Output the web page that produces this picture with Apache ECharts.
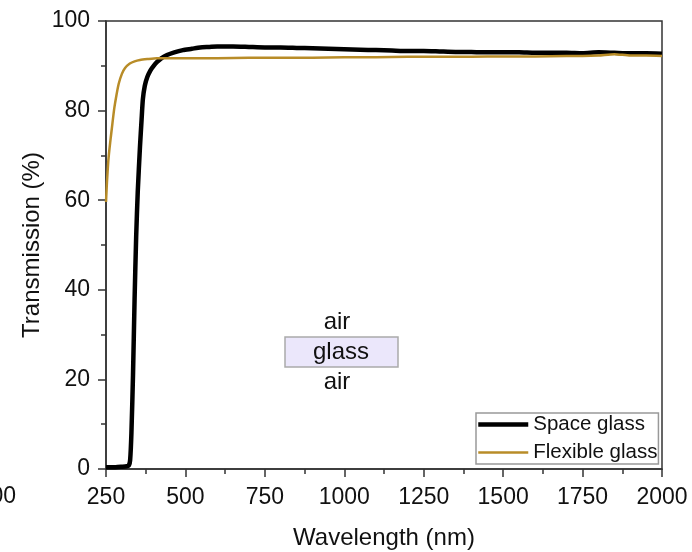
<!DOCTYPE html>
<html>
<head>
<meta charset="utf-8">
<script src="https://cdn.jsdelivr.net/npm/echarts@6/dist/echarts.min.js"></script>
<style>
html, body { margin: 0; padding: 0; background: #fff; }
#main { width: 692px; height: 552px; }
</style>
</head>
<body>
<div id="main"></div>
<script>
// 透射光谱 数据
var space_x = [250, 280, 300, 315, 322, 326, 330, 335, 340, 345, 350, 357, 362, 366, 372, 380, 390, 400, 410, 425, 442, 465, 492, 520, 546, 575, 600, 650, 700, 750, 800, 850, 900, 950, 1000, 1050, 1100, 1150, 1200, 1250, 1300, 1350, 1400, 1450, 1500, 1550, 1600, 1650, 1700, 1750, 1800, 1850, 1900, 1950, 2000];
var space_y = [0.4, 0.4, 0.5, 0.6, 0.8, 2, 8, 21, 38, 52, 62, 72, 78, 82.5, 85.5, 87.5, 89, 90, 90.8, 91.7, 92.4, 93.0, 93.5, 93.8, 94.1, 94.2, 94.3, 94.3, 94.2, 94.1, 94.1, 94.0, 93.9, 93.8, 93.7, 93.6, 93.5, 93.4, 93.3, 93.3, 93.2, 93.1, 93.1, 93.0, 93.0, 93.0, 92.9, 92.9, 92.9, 92.8, 93.0, 92.9, 92.8, 92.8, 92.7];

var flex_x = [250, 253, 257, 261, 265, 270, 276, 283, 290, 300, 310, 325, 340, 357, 380, 410, 450, 500, 600, 700, 800, 900, 1000, 1100, 1200, 1300, 1400, 1500, 1600, 1700, 1750, 1800, 1850, 1900, 1950, 2000];
var flex_y = [59.6, 64, 68.5, 71.5, 74, 77, 80.5, 83.5, 86, 88.2, 89.5, 90.5, 91.0, 91.3, 91.5, 91.7, 91.7, 91.7, 91.7, 91.8, 91.8, 91.8, 91.9, 91.9, 92.0, 92.0, 92.0, 92.1, 92.1, 92.2, 92.2, 92.3, 92.6, 92.3, 92.3, 92.2];

var x_ticks = [250, 500, 750, 1000, 1250, 1500, 1750, 2000];
var y_ticks = [0, 20, 40, 60, 80, 100];
var names = ['Space glass', 'Flexible glass'];

var font = 'Liberation Sans, Arial, sans-serif';
var axisColor = '#333';
var black = '#000';
var gold = '#b88c28';

function pairs(xs, ys) {
    var out = [];
    for (var i = 0; i < xs.length; i++) {
        out.push([xs[i], ys[i]]);
    }
    return out;
}

var chart = echarts.init(document.getElementById('main'));

var option = {
    animation: false,
    grid: {
        left: 106, right: 30, top: 21, bottom: 83,
        outerBoundsMode: 'none',
        show: true,
        borderColor: axisColor,
        borderWidth: 1.5
    },
    legend: {
        data: [
            { name: names[0], lineStyle: { width: 4.5, color: black } },
            { name: names[1], lineStyle: { width: 2.5, color: gold } }
        ],
        orient: 'vertical',
        left: 476,
        top: 413,
        itemWidth: 50,
        itemHeight: 20,
        itemGap: 7,
        padding: [1, 1, 1, 0],
        borderColor: '#999',
        borderWidth: 1.5,
        itemStyle: { opacity: 0 },
        textStyle: { fontFamily: font, fontSize: 20.5, color: '#111' }
    },
    xAxis: {
        type: 'value',
        min: x_ticks[0],
        max: x_ticks[x_ticks.length - 1],
        interval: 250,
        name: 'Wavelength (nm)',
        nameLocation: 'middle',
        nameGap: 57,
        nameTextStyle: { fontFamily: font, fontSize: 24, color: '#111' },
        axisLine: { onZero: false, lineStyle: { color: axisColor, width: 1.5 } },
        axisTick: { length: 8, lineStyle: { color: axisColor, width: 1.5 } },
        minorTick: { show: true, splitNumber: 2, length: 5, lineStyle: { color: axisColor, width: 1.5 } },
        axisLabel: {
            fontFamily: font, fontSize: 23, color: '#111', margin: 17,
            formatter: function (v) { return String(v); }
        },
        splitLine: { show: false }
    },
    yAxis: {
        type: 'value',
        min: y_ticks[0],
        max: y_ticks[y_ticks.length - 1],
        interval: 20,
        name: 'Transmission (%)',
        nameLocation: 'middle',
        nameRotate: 90,
        nameGap: 62,
        nameMoveOverlap: false,
        nameTextStyle: { fontFamily: font, fontSize: 24, color: '#111' },
        axisLine: { onZero: false, lineStyle: { color: axisColor, width: 1.5 } },
        axisTick: { length: 8, lineStyle: { color: axisColor, width: 1.5 } },
        minorTick: { show: true, splitNumber: 2, length: 5, lineStyle: { color: axisColor, width: 1.5 } },
        axisLabel: { fontFamily: font, fontSize: 23, color: '#111', margin: 16 },
        splitLine: { show: false }
    },
    series: [
        {
            name: names[0],
            type: 'line',
            data: pairs(space_x, space_y),
            symbol: 'none',
            smooth: 0.2,
            z: 2,
            lineStyle: { color: black, width: 4.5 },
            itemStyle: { color: black }
        },
        {
            name: names[1],
            type: 'line',
            data: pairs(flex_x, flex_y),
            symbol: 'none',
            smooth: 0.2,
            z: 3,
            lineStyle: { color: gold, width: 2.5 },
            itemStyle: { color: gold }
        }
    ],
    graphic: [
        // air / glass / air 示意
        { type: 'text', x: 337, y: 322, style: { text: 'air', fontFamily: font, fontSize: 24, fill: '#111', textAlign: 'center', textVerticalAlign: 'middle' } },
        { type: 'rect', x: 285, y: 337, shape: { width: 113, height: 30 }, style: { fill: '#ebe7fb', stroke: '#aaa', lineWidth: 1.5 } },
        { type: 'text', x: 341, y: 352, style: { text: 'glass', fontFamily: font, fontSize: 24, fill: '#111', textAlign: 'center', textVerticalAlign: 'middle' } },
        { type: 'text', x: 337, y: 382, style: { text: 'air', fontFamily: font, fontSize: 24, fill: '#111', textAlign: 'center', textVerticalAlign: 'middle' } },
        // 左边被裁掉的刻度
        { type: 'text', x: 16, y: 497, style: { text: '200', fontFamily: font, fontSize: 23, fill: '#111', textAlign: 'right', textVerticalAlign: 'middle' } }
    ]
};

chart.setOption(option);
</script>
</body>
</html>
